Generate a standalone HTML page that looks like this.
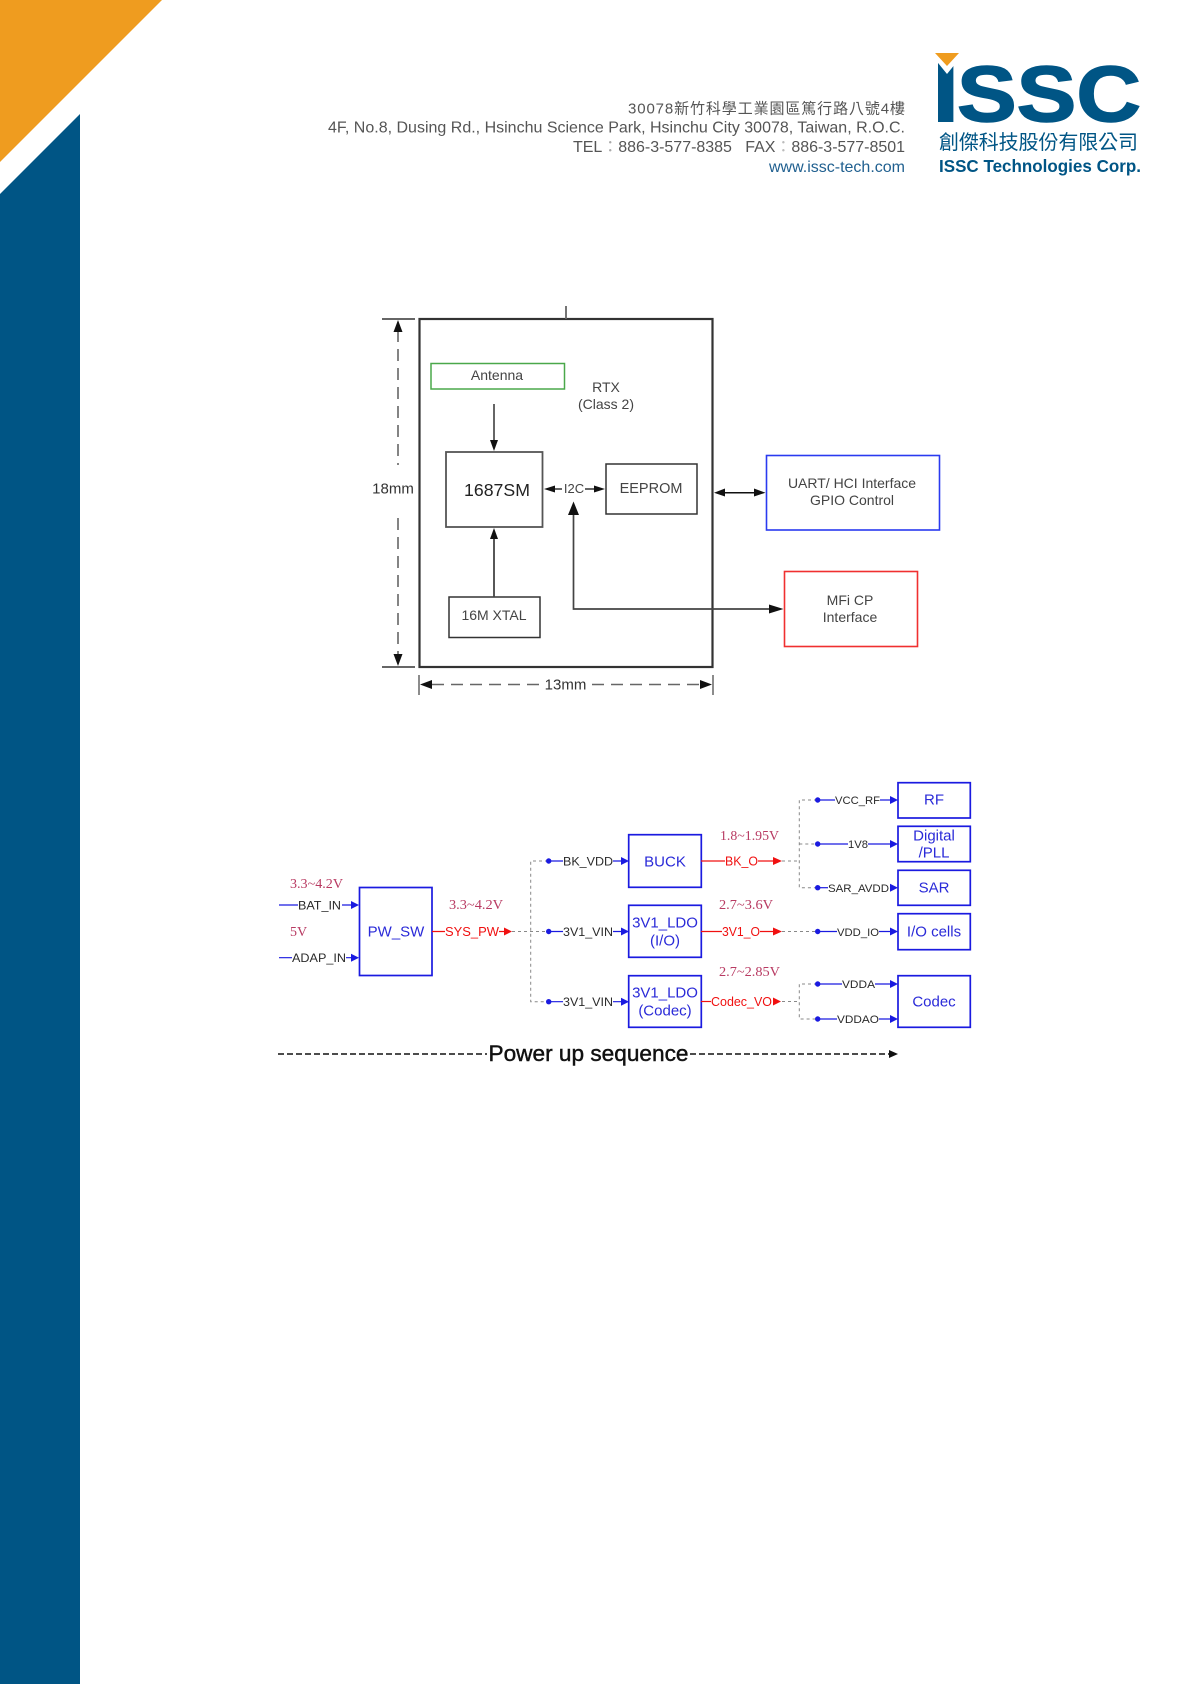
<!DOCTYPE html>
<html>
<head>
<meta charset="utf-8">
<style>
html,body{margin:0;padding:0;background:#fff}
svg{display:block}
text{font-family:"Liberation Sans","Noto Sans CJK TC",sans-serif}
.s{font-family:"Liberation Serif",serif;font-size:14px;fill:#b83a62}
.k{font-size:12px;fill:#2a2a2a}
.r{font-size:12.5px;fill:#f01010}
.b{font-size:15px;fill:#2a2ad8;text-anchor:middle}
.g{font-size:14px;fill:#444;text-anchor:middle}
.soft{filter:blur(.35px)}
</style>
</head>
<body>
<svg xmlns="http://www.w3.org/2000/svg" width="1190" height="1684" viewBox="0 0 1190 1684">
<rect width="1190" height="1684" fill="#fff"/>
<!-- page decoration -->
<polygon points="0,0 162,0 0,162" fill="#ef9c1f"/>
<polygon points="80,114 80,1684 0,1684 0,194" fill="#005585"/>

<!-- address -->
<g font-size="16" fill="#555" class="soft">
<text x="628" y="113.5" textLength="277" lengthAdjust="spacing" font-size="15">30078新竹科學工業園區篤行路八號4樓</text>
<text x="328" y="132.5" textLength="577" lengthAdjust="spacing">4F, No.8, Dusing Rd., Hsinchu Science Park, Hsinchu City 30078, Taiwan, R.O.C.</text>
<text x="573" y="152" textLength="332" lengthAdjust="spacing">TEL<tspan fill="#aaa">：</tspan>886-3-577-8385&#160;&#160;&#160;FAX<tspan fill="#bbb">：</tspan>886-3-577-8501</text>
<text x="769" y="172" textLength="136" lengthAdjust="spacing" fill="#1f5f8f">www.issc-tech.com</text>
</g>

<!-- logo -->
<g fill="#005585" stroke="#005585" font-weight="bold">
<text x="932" y="121.5" font-size="84" textLength="27.4" lengthAdjust="spacingAndGlyphs" stroke-width="1">I</text>
<text x="957" y="121" font-size="79" textLength="184" lengthAdjust="spacingAndGlyphs" stroke-width="1.5">SSC</text>
</g>
<polygon points="934,58 960,58 947,74" fill="#fff"/>
<polygon points="935,53 959,53 947,66" fill="#ef9c1f"/>
<text x="939" y="149" font-size="20" fill="#005585" textLength="199" lengthAdjust="spacing">創傑科技股份有限公司</text>
<text x="939" y="172" font-size="17.5" font-weight="bold" fill="#005585" textLength="202" lengthAdjust="spacingAndGlyphs">ISSC Technologies Corp.</text>

<g class="soft">
<!-- ========== top diagram ========== -->
<g fill="none" stroke="#333">
<rect x="419.5" y="319" width="293" height="348" stroke-width="2.2"/>
<line x1="566" y1="306" x2="566" y2="319" stroke-width="1.8" stroke="#666"/>
<line x1="382" y1="319" x2="415" y2="319" stroke-width="1.5"/>
<line x1="382" y1="667" x2="415" y2="667" stroke-width="1.5"/>
<line x1="398" y1="330" x2="398" y2="465" stroke-width="1.6" stroke="#666" stroke-dasharray="12 7"/>
<line x1="398" y1="518" x2="398" y2="656" stroke-width="1.6" stroke="#666" stroke-dasharray="12 7"/>
<line x1="419" y1="675" x2="419" y2="695" stroke-width="1.5" stroke="#666"/>
<line x1="713" y1="675" x2="713" y2="695" stroke-width="1.5" stroke="#666"/>
<line x1="432" y1="684.5" x2="543" y2="684.5" stroke-width="1.6" stroke="#666" stroke-dasharray="12 7"/>
<line x1="592" y1="684.5" x2="702" y2="684.5" stroke-width="1.6" stroke="#666" stroke-dasharray="12 7"/>
<rect x="431" y="363.5" width="133.5" height="25.5" stroke="#4aa84a" stroke-width="1.5"/>
<rect x="446" y="452" width="96.5" height="75" stroke-width="1.8" stroke="#555"/>
<rect x="606" y="464" width="91" height="50" stroke-width="1.5"/>
<rect x="449" y="597" width="91" height="40.5" stroke-width="1.5"/>
<rect x="766.5" y="455.5" width="173" height="74.5" stroke="#2a3af0" stroke-width="1.6"/>
<rect x="784.5" y="571.5" width="133" height="75" stroke="#f03030" stroke-width="1.6"/>
<line x1="494" y1="404" x2="494" y2="442" stroke-width="1.5"/>
<line x1="494" y1="537" x2="494" y2="597" stroke-width="1.8" stroke="#444"/>
<line x1="554" y1="489" x2="562" y2="489" stroke-width="1.5"/>
<line x1="585" y1="489" x2="596" y2="489" stroke-width="1.5"/>
<line x1="720" y1="492.7" x2="760" y2="492.7" stroke-width="1.5" stroke="#111"/>
<path d="M573.5 512 V609 H771" stroke-width="1.7" stroke="#444"/>
</g>
<g fill="#111">
<polygon points="398,320 393.5,332 402.5,332"/>
<polygon points="398,666 393.5,654 402.5,654"/>
<polygon points="420,684.5 432,680 432,689"/>
<polygon points="712,684.5 700,680 700,689"/>
<polygon points="494,451 490,440 498,440"/>
<polygon points="494,528 490,539 498,539"/>
<polygon points="544,489 555,485.5 555,492.5"/>
<polygon points="605,489 594,485.5 594,492.5"/>
<polygon points="714,492.7 725,488.5 725,496.5"/>
<polygon points="765.5,492.7 754,488.5 754,496.5"/>
<polygon points="573.5,501.5 568,515 579,515"/>
<polygon points="783.5,609 769,604.5 769,613.5"/>
</g>
<text x="393" y="493.5" font-size="15" fill="#333" text-anchor="middle">18mm</text>
<text x="565.5" y="689.5" font-size="15" fill="#333" text-anchor="middle">13mm</text>
<text class="g" x="497" y="380" font-size="13.5">Antenna</text>
<text class="g" x="606" y="392">RTX</text>
<text class="g" x="606" y="409">(Class 2)</text>
<text x="497" y="496" font-size="17.7" fill="#222" text-anchor="middle">1687SM</text>
<text class="g" x="574" y="493" style="font-size:13px">I2C</text>
<text x="651" y="493" font-size="14.5" fill="#444" text-anchor="middle">EEPROM</text>
<text x="494" y="620" font-size="14" fill="#444" text-anchor="middle">16M XTAL</text>
<text class="g" x="852" y="488">UART/ HCI Interface</text>
<text class="g" x="852" y="505">GPIO Control</text>
<text class="g" x="850" y="605">MFi CP</text>
<text class="g" x="850" y="622">Interface</text>

<!-- ========== bottom diagram ========== -->
<!-- boxes -->
<g fill="none" stroke="#1a1ae0" stroke-width="1.7">
<rect x="359.5" y="887.5" width="72.5" height="88"/>
<rect x="628.7" y="834.7" width="72.6" height="52.6"/>
<rect x="628.7" y="905.3" width="72.6" height="52"/>
<rect x="628.7" y="975.7" width="72.6" height="51.6"/>
<rect x="898" y="782.7" width="72.3" height="35.3"/>
<rect x="898" y="826.3" width="72.3" height="35.4"/>
<rect x="898" y="870.3" width="72.3" height="35"/>
<rect x="898" y="913.7" width="72.3" height="36"/>
<rect x="898" y="975.7" width="72.3" height="51.6"/>
</g>
<text class="b" x="396" y="936.5">PW_SW</text>
<text class="b" x="665" y="866.5">BUCK</text>
<text class="b" x="665" y="927.5">3V1_LDO</text>
<text class="b" x="665" y="945.5">(I/O)</text>
<text class="b" x="665" y="997.5">3V1_LDO</text>
<text class="b" x="665" y="1015.5">(Codec)</text>
<text class="b" x="934" y="804.5">RF</text>
<text class="b" x="934" y="840.5">Digital</text>
<text class="b" x="934" y="857.5">/PLL</text>
<text class="b" x="934" y="892.5">SAR</text>
<text class="b" x="934" y="936.5">I/O cells</text>
<text class="b" x="934" y="1006.5">Codec</text>

<!-- gray dashes -->
<g fill="none" stroke="#888" stroke-width="1" stroke-dasharray="3 3">
<path d="M512 931.5 H548"/>
<path d="M548 861 H530.7 V1001.7 H548"/>
<path d="M782 861 H799.3"/>
<path d="M817 800 H799.3 V887.7 H817"/>
<path d="M799.3 844 H817"/>
<path d="M782 931.5 H817"/>
<path d="M782 1001.5 H799.3"/>
<path d="M817 984 H799.3 V1019 H817"/>
</g>

<!-- blue lines -->
<g fill="none" stroke="#1a1ae0" stroke-width="1.2">
<path d="M279 905 H298 M342 905 H352"/>
<path d="M279 957.7 H292 M346 957.7 H352"/>
<path d="M549 861 H563 M613 861 H622"/>
<path d="M549 931.5 H563 M613 931.5 H622"/>
<path d="M549 1001.7 H563 M613 1001.7 H622"/>
<path d="M818 800 H835 M880 800 H891"/>
<path d="M818 844 H848 M868 844 H891"/>
<path d="M818 887.7 H828"/>
<path d="M818 931.5 H837 M879 931.5 H891"/>
<path d="M818 984 H842 M875 984 H891"/>
<path d="M818 1019 H837 M879 1019 H891"/>
</g>
<g fill="#1a1ae0">
<circle cx="548.7" cy="861" r="2.7"/><circle cx="548.7" cy="931.5" r="2.7"/><circle cx="548.7" cy="1001.7" r="2.7"/>
<circle cx="817.7" cy="800" r="2.7"/><circle cx="817.7" cy="844" r="2.7"/><circle cx="817.7" cy="887.7" r="2.7"/>
<circle cx="817.7" cy="931.5" r="2.7"/><circle cx="817.7" cy="984" r="2.7"/><circle cx="817.7" cy="1019" r="2.7"/>
<polygon points="359,905 351,901 351,909"/>
<polygon points="359,957.7 351,953.7 351,961.7"/>
<polygon points="629,861 621,857 621,865"/>
<polygon points="629,931.5 621,927.5 621,935.5"/>
<polygon points="629,1001.7 621,997.7 621,1005.7"/>
<polygon points="898,800 890,796 890,804"/>
<polygon points="898,844 890,840 890,848"/>
<polygon points="898,887.7 890,883.7 890,891.7"/>
<polygon points="898,931.5 890,927.5 890,935.5"/>
<polygon points="898,984 890,980 890,988"/>
<polygon points="898,1019 890,1015 890,1023"/>
</g>

<!-- red lines -->
<g fill="none" stroke="#f01010" stroke-width="1.2">
<path d="M432 931.5 H445 M499 931.5 H505"/>
<path d="M701 861 H725 M758 861 H774"/>
<path d="M701 931.5 H722 M760 931.5 H774"/>
<path d="M701 1001.5 H711"/>
</g>
<g fill="#f01010">
<polygon points="512,931.5 504,927.5 504,935.5"/>
<polygon points="782,861 773,857 773,865"/>
<polygon points="782,931.5 773,927.5 773,935.5"/>
<polygon points="781,1001.5 773,997.5 773,1005.5"/>
</g>

<!-- labels -->
<text class="k" x="298" y="909.5" textLength="43" lengthAdjust="spacingAndGlyphs">BAT_IN</text>
<text class="k" x="292" y="962" textLength="54" lengthAdjust="spacingAndGlyphs">ADAP_IN</text>
<text class="k" x="563" y="865.5" textLength="50" lengthAdjust="spacingAndGlyphs">BK_VDD</text>
<text class="k" x="563" y="936" textLength="50" lengthAdjust="spacingAndGlyphs">3V1_VIN</text>
<text class="k" x="563" y="1006" textLength="50" lengthAdjust="spacingAndGlyphs">3V1_VIN</text>
<text class="k" x="835" y="804" textLength="45" lengthAdjust="spacingAndGlyphs" style="font-size:11.2px">VCC_RF</text>
<text class="k" x="848" y="848" textLength="20" lengthAdjust="spacingAndGlyphs" style="font-size:11.2px">1V8</text>
<text class="k" x="828" y="892" textLength="61" lengthAdjust="spacingAndGlyphs" style="font-size:11.2px">SAR_AVDD</text>
<text class="k" x="837" y="936" textLength="42" lengthAdjust="spacingAndGlyphs" style="font-size:11.2px">VDD_IO</text>
<text class="k" x="842" y="988" textLength="33" lengthAdjust="spacingAndGlyphs" style="font-size:11.2px">VDDA</text>
<text class="k" x="837" y="1023" textLength="42" lengthAdjust="spacingAndGlyphs" style="font-size:11.2px">VDDAO</text>
<text class="r" x="445" y="936" textLength="54" lengthAdjust="spacingAndGlyphs">SYS_PW</text>
<text class="r" x="725" y="865.5" textLength="33" lengthAdjust="spacingAndGlyphs">BK_O</text>
<text class="r" x="722" y="936" textLength="38" lengthAdjust="spacingAndGlyphs">3V1_O</text>
<text class="r" x="711" y="1006" textLength="61" lengthAdjust="spacingAndGlyphs">Codec_VO</text>
<text class="s" x="290" y="888" textLength="53" lengthAdjust="spacingAndGlyphs">3.3~4.2V</text>
<text class="s" x="290" y="936">5V</text>
<text class="s" x="449" y="909" textLength="54" lengthAdjust="spacingAndGlyphs">3.3~4.2V</text>
<text class="s" x="720" y="840" textLength="59" lengthAdjust="spacingAndGlyphs">1.8~1.95V</text>
<text class="s" x="719" y="909" textLength="54" lengthAdjust="spacingAndGlyphs">2.7~3.6V</text>
<text class="s" x="719" y="976" textLength="61" lengthAdjust="spacingAndGlyphs">2.7~2.85V</text>

<!-- power up sequence -->
<line x1="278" y1="1054" x2="487" y2="1054" stroke="#111" stroke-width="1.4" stroke-dasharray="6 3"/>
<line x1="690" y1="1054" x2="891" y2="1054" stroke="#111" stroke-width="1.4" stroke-dasharray="6 3"/>
<polygon points="898,1054 889,1050 889,1058" fill="#111"/>
<text x="488.5" y="1061" font-size="22.6" fill="#111" stroke="#111" stroke-width=".45" textLength="200" lengthAdjust="spacingAndGlyphs">Power up sequence</text>
</g>
</svg>
</body>
</html>
